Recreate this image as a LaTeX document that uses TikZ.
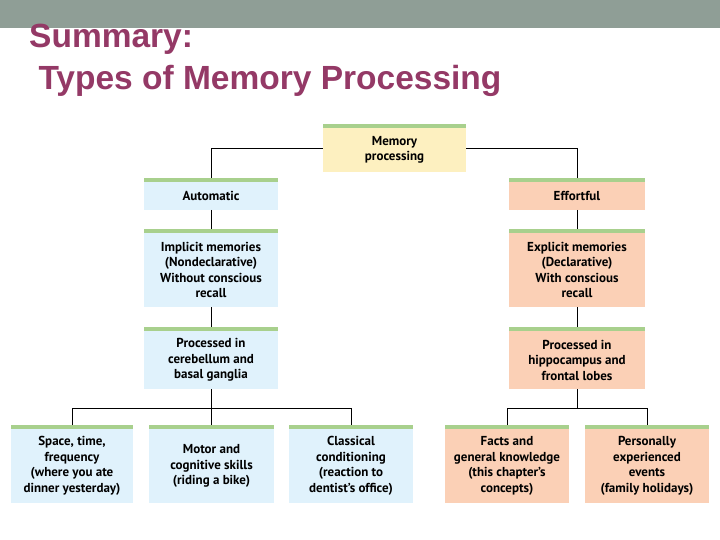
\documentclass[tikz,border=0pt]{standalone}
\usepackage{fontspec}
\setmainfont{Liberation Sans}
\newfontfamily\boxfont{PT Sans}
\definecolor{barc}{HTML}{8F9E96}
\definecolor{titc}{HTML}{943966}
\definecolor{bluef}{HTML}{E0F2FC}
\definecolor{orf}{HTML}{FBD0B6}
\definecolor{yelf}{HTML}{FDF0C0}
\definecolor{strip}{HTML}{A8D08D}
\begin{document}
\begin{tikzpicture}[x=1pt,y=-1pt,
  bx/.style={draw=none,inner sep=0pt,align=center,font=\boxfont\bfseries\fontsize{13}{15.5}\selectfont},
  ln/.style={draw=black,line width=0.8pt}]
\useasboundingbox (0,0) rectangle (720,540);
\fill[white] (0,0) rectangle (720,540);
\fill[barc] (0,0) rectangle (720,28);
\node[anchor=north west,inner sep=0pt,text=titc,font=\bfseries\fontsize{33.5}{42}\selectfont,align=left] (title) at (29,24) {Summary:\\\ Types of Memory Processing};
\newcommand{\mybox}[7]{%
  \fill[#6] (#2,#3) rectangle (#4,#5);
  \fill[strip] (#2,#3) rectangle (#4,#3+4);
  \node[bx,minimum width={#4-#2}] (#1) at ({(#2+#4)/2},{(#3+#5)/2+2}) {#7};
  \coordinate (#1t) at ({(#2+#4)/2},#3);
  \coordinate (#1b) at ({(#2+#4)/2},#5);}
\mybox{mp}{323}{124}{466}{172}{yelf}{Memory\\processing}
\mybox{au}{144}{178}{278}{210}{bluef}{Automatic}
\mybox{ef}{509}{178}{645}{210}{orf}{Effortful}
\mybox{im}{144}{229}{278}{307}{bluef}{Implicit memories\\(Nondeclarative)\\Without conscious\\recall}
\mybox{ex}{509}{229}{645}{307}{orf}{Explicit memories\\(Declarative)\\With conscious\\recall}
\mybox{pl}{144}{327}{278}{389}{bluef}{Processed in\\cerebellum and\\basal ganglia}
\mybox{pr}{509}{327}{645}{389}{orf}{Processed in\\hippocampus and\\frontal lobes}
\mybox{b1}{11}{425}{133}{503}{bluef}{Space, time,\\frequency\\(where you ate\\dinner yesterday)}
\mybox{b2}{149}{425}{274}{503}{bluef}{Motor and\\cognitive skills\\(riding a bike)}
\mybox{b3}{289}{425}{413}{503}{bluef}{Classical\\conditioning\\(reaction to\\dentist’s office)}
\mybox{b4}{445}{425}{569}{503}{orf}{Facts and\\general knowledge\\(this chapter’s\\concepts)}
\mybox{b5}{585}{425}{709}{503}{orf}{Personally\\experienced\\events\\(family holidays)}
\draw[ln] (mp.west |- 0,148) -| (aut);
\draw[ln] (mp.east |- 0,148) -| (eft);
\draw[ln] (aub) -- (imt);
\draw[ln] (efb) -- (ext);
\draw[ln] (imb) -- (plt);
\draw[ln] (exb) -- (prt);
\draw[ln] (plb) -- (plb |- 0,408);
\draw[ln] (b1t) -- (b1t |- 0,408) -- (b3t |- 0,408) -- (b3t);
\draw[ln] (b2t) -- (b2t |- 0,408);
\draw[ln] (prb) -- (prb |- 0,408);
\draw[ln] (b4t) -- (b4t |- 0,408) -- (b5t |- 0,408) -- (b5t);
\end{tikzpicture}
\end{document}
